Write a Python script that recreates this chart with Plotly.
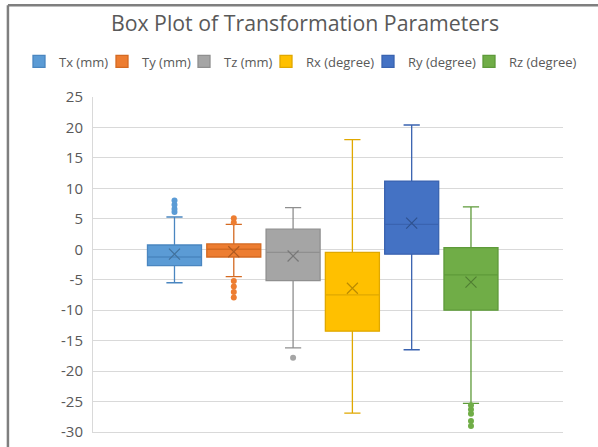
import plotly.graph_objects as go

names = ["Tx (mm)", "Ty (mm)", "Tz (mm)", "Rx (degree)", "Ry (degree)", "Rz (degree)"]
q1 = [-2.7, -1.27, -5.15, -13.45, -0.8, -10.0]
median = [-1.27, 0.0, -0.5, -7.5, 4.1, -4.2]
q3 = [0.7, 0.87, 3.3, -0.5, 11.2, 0.27]
lowerfence = [-5.5, -4.5, -16.2, -26.9, -16.5, -25.3]
upperfence = [5.3, 4.1, 6.85, 18.0, 20.4, 6.95]
means = [-0.8, -0.4, -1.1, -6.4, 4.3, -5.4]
outliers = [
    [8.0, 7.3, 6.6, 6.1],
    [5.1, 4.4, -5.2, -6.1, -7.0, -7.9],
    [-17.8],
    [],
    [],
    [-25.6, -26.3, -27.0, -28.2, -29.0],
]
fills = ["#5B9BD5", "#ED7D31", "#A5A5A5", "#FFC000", "#4472C4", "#70AD47"]
lines = ["#4A86C0", "#D46A22", "#8F8F8F", "#E0A800", "#3A63B0", "#5E9A3A"]
darks = ["#41719C", "#AE5A21", "#787878", "#BC8C00", "#2F528F", "#507E32"]
yticks = list(range(-30, 30, 5))
yticklabels = [str(v) for v in yticks]
category = "Parameters"

# legend entry left edges (px) for the six separate legends
legend_x_px = [19, 102, 184, 266, 368, 469]
legend_keys = ["legend"] + [f"legend{i}" for i in range(2, 7)]

fig = go.Figure()
for i, n in enumerate(names):
    fig.add_trace(go.Box(
        name=n,
        x=[category],
        y=[outliers[i]] if outliers[i] else None,
        q1=[q1[i]], median=[median[i]], q3=[q3[i]],
        lowerfence=[lowerfence[i]], upperfence=[upperfence[i]],
        fillcolor=fills[i],
        line=dict(color=lines[i], width=1.3),
        whiskerwidth=0.3,
        boxpoints="outliers",
        jitter=0, pointpos=0,
        marker=dict(color=fills[i], size=6, line=dict(width=0)),
        offsetgroup=str(i),
        legend=legend_keys[i],
        hoverinfo="skip",
    ))
for i, n in enumerate(names):
    fig.add_trace(go.Scatter(
        x=[category], y=[means[i]], mode="markers",
        marker=dict(symbol="x-thin", size=11, line=dict(color=darks[i], width=1.2)),
        offsetgroup=str(i), showlegend=False, hoverinfo="skip",
    ))

legend_layouts = {}
for i, key in enumerate(legend_keys):
    legend_layouts[key] = dict(
        orientation="h", xref="container", yref="container",
        x=legend_x_px[i] / 598, xanchor="left", y=1 - 61.5 / 447, yanchor="middle",
        font=dict(size=13, color="#595959", family="Open Sans"), itemwidth=30,
        bgcolor="rgba(0,0,0,0)",
    )

fig.update_layout(
    width=598, height=447,
    margin=dict(l=93, r=35, t=97, b=15, autoexpand=False),
    paper_bgcolor="white", plot_bgcolor="white",
    font=dict(family="Open Sans", color="#595959", size=14),
    title=dict(text="Box Plot of Transformation Parameters", x=305 / 598, xanchor="center",
               y=1 - 24 / 447, yanchor="middle", font=dict(size=21.3, color="#595959")),
    boxmode="group", boxgap=0.243, boxgroupgap=0.089,
    scattermode="group", scattergap=0.243,
    showlegend=True,
    xaxis=dict(type="category", range=[-0.4888, 0.5112], showticklabels=False,
               showgrid=False, zeroline=False, showline=True, linecolor="#D9D9D9",
               ticks=""),
    yaxis=dict(range=[-30, 25], tickvals=yticks, ticktext=yticklabels, showgrid=True,
               gridcolor="#D9D9D9", gridwidth=1, zeroline=False, showline=True,
               linecolor="#D9D9D9", ticks="", ticklabelstandoff=6,
               tickfont=dict(size=15, color="#595959")),
    shapes=[
        dict(type="line", xref="paper", yref="paper", x0=-0.181, x1=-0.181,
             y0=1.274, y1=-0.06, line=dict(color="#7F7F7F", width=2.5)),
        dict(type="line", xref="paper", yref="paper", x0=-0.181, x1=1.08,
             y0=1.274, y1=1.274, line=dict(color="#7F7F7F", width=2.5)),
    ],
    **legend_layouts,
)
fig.write_html("out.html", config={"displayModeBar": False},
               post_script="document.body.style.margin='0';")
